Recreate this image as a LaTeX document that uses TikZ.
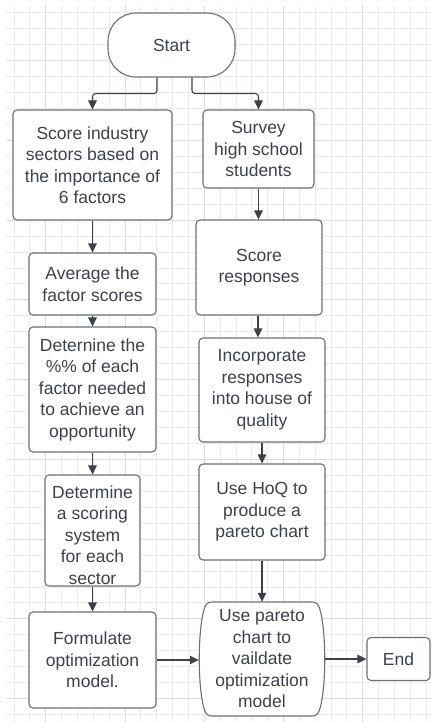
\documentclass[tikz,border=0pt]{standalone}
\usepackage{fontspec}
\setmainfont{Liberation Sans}
\usetikzlibrary{arrows.meta,calc}
\definecolor{gridminor}{HTML}{EBEBEB}
\definecolor{gridmajor}{HTML}{DCDCDC}
\definecolor{boxline}{HTML}{6A6F78}
\definecolor{ink}{HTML}{3C424C}
\tikzset{
  stepbox/.style={draw=boxline, line width=1.1pt, rounded corners=4pt, fill=white,
    inner sep=0pt, align=center, text=ink,
    font=\fontsize{17.5}{21.5}\selectfont},
  plainbox/.style={draw=none, inner sep=0pt, align=center, text=ink,
    font=\fontsize{17.5}{21.5}\selectfont},
  conn/.style={draw=ink, line width=1.1pt, rounded corners=3pt,
    -{Triangle[length=9pt,width=8.5pt]}},
}
\begin{document}
\begin{tikzpicture}[x=1pt,y=-1pt]
\useasboundingbox (0,0) rectangle (431,722);
\fill[white] (0,0) rectangle (431,722);

% background grid
\begin{scope}
\clip (6,6) rectangle (431,722);
\foreach \k in {0,...,26} {
  \pgfmathsetmacro{\gx}{14+15.85*\k}
  \pgfmathtruncatemacro{\mj}{mod(\k,5)==2}
  \ifnum\mj=1
    \draw[gridmajor, line width=0.9pt] (\gx,6) -- (\gx,722);
  \else
    \draw[gridminor, line width=0.8pt] (\gx,6) -- (\gx,722);
  \fi
}
\foreach \k in {0,...,45} {
  \pgfmathsetmacro{\gy}{12.7+15.95*\k}
  \pgfmathtruncatemacro{\mj}{mod(\k,5)==3}
  \ifnum\mj=1
    \draw[gridmajor, line width=0.9pt] (6,\gy) -- (431,\gy);
  \else
    \draw[gridminor, line width=0.8pt] (6,\gy) -- (431,\gy);
  \fi
}
\end{scope}

% terminals and process steps
\node[stepbox, rounded corners=28pt, minimum width=127pt, minimum height=64pt]
  (start) at (171.5,45) {Start};

\node[stepbox, minimum width=159pt, minimum height=110pt] (sis) at (92.5,165)
  {Score industry\\sectors based on\\the importance of\\6 factors};
\node[stepbox, minimum width=127pt, minimum height=62pt] (avg) at (92.5,284)
  {Average the\\factor scores};
\node[stepbox, minimum width=127pt, minimum height=125pt] (pct) at (92.5,389.5)
  {Deternine the\\\%\% of each\\factor needed\\to achieve an\\opportunity};
\node[stepbox, minimum width=95pt, minimum height=111pt] (scoring) at (92.5,530.5)
  {};
\node[plainbox] at (92.5,535) {Determine\\a scoring\\system\\for each\\sector};
\node[stepbox, minimum width=127pt, minimum height=96pt] (formulate) at (92.5,660)
  {Formulate\\optimization\\model.};

\node[stepbox, minimum width=111pt, minimum height=78pt] (survey) at (258.5,149)
  {Survey\\high school\\students};
\node[stepbox, minimum width=126pt, minimum height=95pt] (resp) at (259,267.5)
  {Score\\responses};
\node[stepbox, minimum width=126pt, minimum height=104pt] (incorp) at (262,390)
  {Incorporate\\responses\\into house of\\quality};
\node[stepbox, minimum width=126pt, minimum height=96pt] (hoq) at (262,512)
  {Use HoQ to\\produce a\\pareto chart};

% validation step with bulging sides
\draw[boxline, line width=1.1pt, fill=white]
  (212,602) -- (312,602) .. controls (316,602) and (318,604) .. (319.5,608)
  .. controls (326.5,630) and (326.5,688) .. (319.5,710)
  .. controls (318,714) and (316,716) .. (312,716) -- (212,716)
  .. controls (208,716) and (206,714) .. (204.5,710)
  .. controls (197.5,688) and (197.5,630) .. (204.5,608)
  .. controls (206,604) and (208,602) .. (212,602) -- cycle;
\node[plainbox, minimum width=126pt, minimum height=114pt] (pareto) at (262,659)
  {Use pareto\\chart to\\vaildate\\optimization\\model};

\node[stepbox, minimum width=63pt, minimum height=43pt] (end) at (398.5,659) {End};

% connectors
\draw[conn] ([xshift=-14.5pt]start.south) -- ++(0,16) -| (sis.north);
\draw[conn] ([xshift=20.5pt]start.south) -- ++(0,16) -| (survey.north);

\draw[conn] (sis.south) -- (avg.north);
\draw[conn] (avg.south) -- (pct.north);
\draw[conn] (pct.south) -- (scoring.north);
\draw[conn] (scoring.south) -- (formulate.north);

\draw[conn] (survey.south) -- (survey.south |- resp.north);
\draw[conn] ([xshift=-1pt]resp.south) -- ([xshift=-1pt]resp.south |- incorp.north);
\draw[conn] (incorp.south) -- (hoq.north);
\draw[conn] (hoq.south) -- (pareto.north);

\draw[conn] (formulate.east) -- (formulate.east -| pareto.west);
\draw[conn] (pareto.east) -- (end.west);
\end{tikzpicture}
\end{document}
